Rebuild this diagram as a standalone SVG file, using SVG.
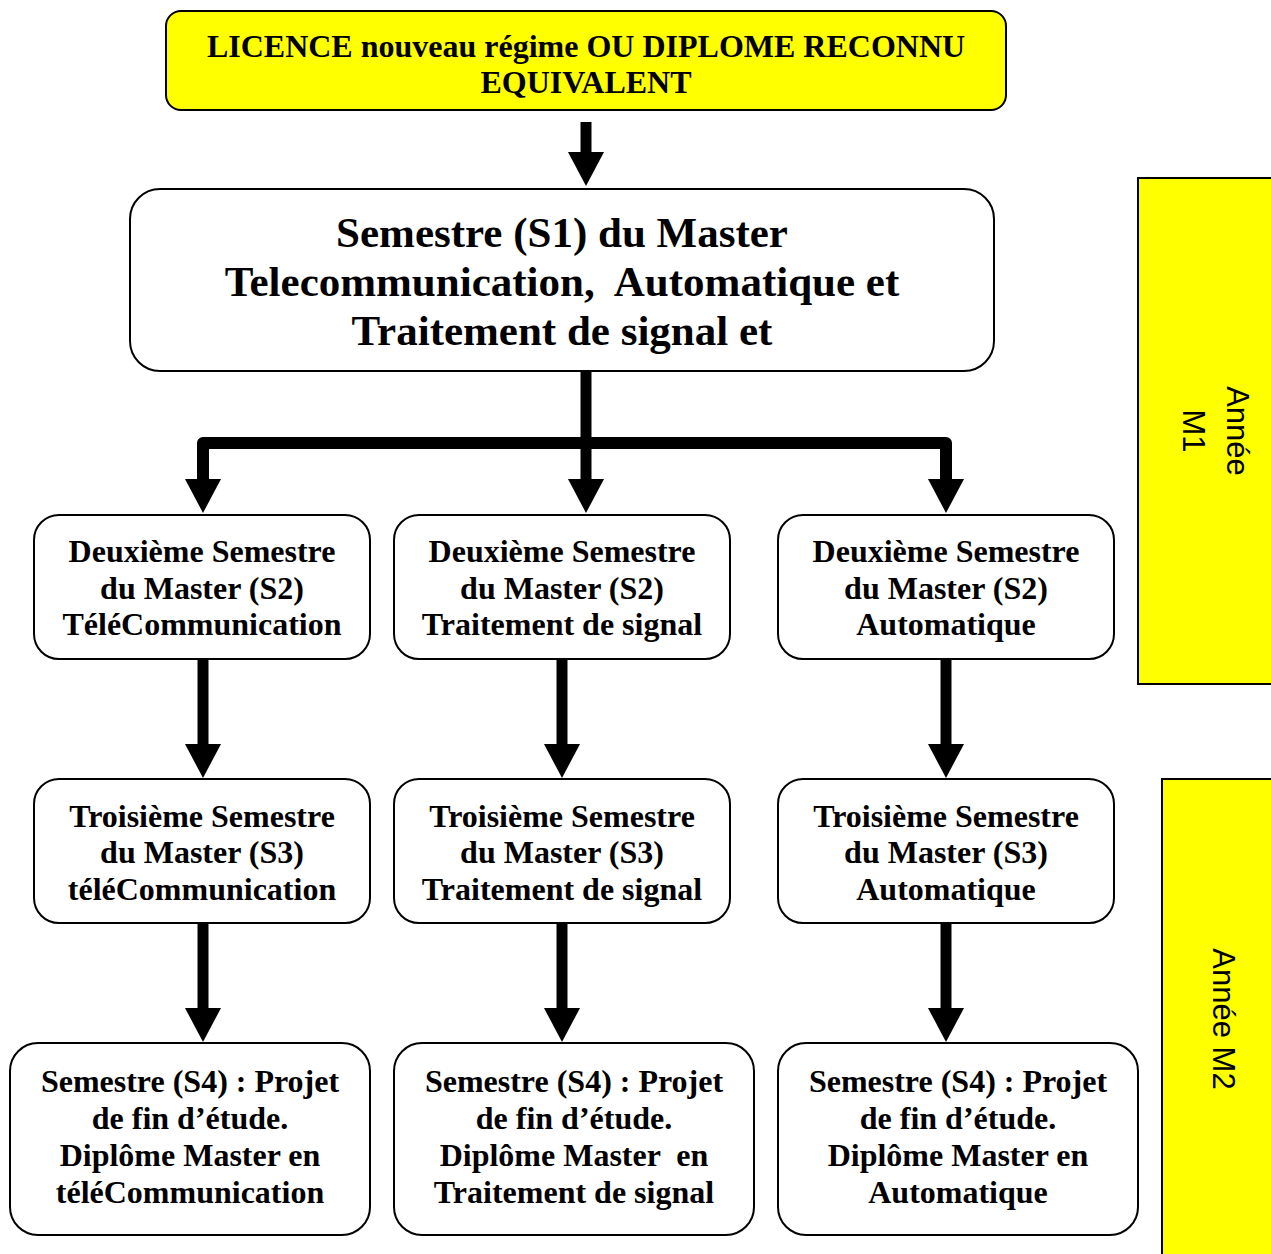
<svg xmlns="http://www.w3.org/2000/svg" width="1271" height="1254" viewBox="0 0 1271 1254">
<style>
.box{fill:#fff;stroke:#000;stroke-width:2}
.yel{fill:#ffff00;stroke:#000;stroke-width:2}
.t{font-family:"Liberation Serif","Times New Roman",serif;font-weight:bold;font-size:32px;text-anchor:middle;fill:#000;white-space:pre}
.big{font-size:43px}
.side{font-family:"Liberation Sans",Arial,sans-serif;font-size:31px;text-anchor:middle;fill:#000}
.c{fill:none;stroke:#000;stroke-width:11}
</style>
<defs>
<marker id="ah" markerUnits="userSpaceOnUse" markerWidth="34" markerHeight="36" viewBox="0 0 34 36" refX="0" refY="18" orient="auto">
<path d="M0,0 L34,18 L0,36 Z" fill="#000"/>
</marker>
</defs>

<g id="bar-m1">
<rect class="yel" x="1138" y="178" width="140" height="506"/>
<g transform="translate(1227,431) rotate(90)"><text class="side" x="0" y="0">Année</text></g>
<g transform="translate(1183,431) rotate(90)"><text class="side" x="0" y="0">M1</text></g>
</g>
<g id="bar-m2">
<rect class="yel" x="1162" y="779" width="120" height="480"/>
<g transform="translate(1213,1019) rotate(90)"><text class="side" x="0" y="0">Année M2</text></g>
</g>

<g id="connectors">
<line class="c" x1="586" y1="122" x2="586" y2="152" marker-end="url(#ah)"/>
<line class="c" x1="586" y1="371" x2="586" y2="479" marker-end="url(#ah)"/>
<path d="M203,479 L203,443 L946,443 L946,479" fill="none" stroke="#000" stroke-width="12" stroke-linejoin="round"/>
<line class="c" x1="203" y1="470" x2="203" y2="479" marker-end="url(#ah)"/>
<line class="c" x1="946" y1="470" x2="946" y2="479" marker-end="url(#ah)"/>
<line class="c" x1="203" y1="659" x2="203" y2="744" marker-end="url(#ah)"/>
<line class="c" x1="562" y1="659" x2="562" y2="744" marker-end="url(#ah)"/>
<line class="c" x1="946" y1="659" x2="946" y2="744" marker-end="url(#ah)"/>
<line class="c" x1="203" y1="923" x2="203" y2="1008" marker-end="url(#ah)"/>
<line class="c" x1="562" y1="923" x2="562" y2="1008" marker-end="url(#ah)"/>
<line class="c" x1="946" y1="923" x2="946" y2="1008" marker-end="url(#ah)"/>
</g>

<g id="licence">
<rect class="yel" x="166" y="11" width="840" height="99" rx="15"/>
<text class="t" x="586" y="57">LICENCE nouveau régime OU DIPLOME RECONNU</text>
<text class="t" x="586" y="93">EQUIVALENT</text>
</g>

<g id="s1">
<rect class="box" x="130" y="189" width="864" height="182" rx="30"/>
<text class="t big" x="562" y="247">Semestre (S1) du Master</text>
<text class="t big" x="562" y="296">Telecommunication,  Automatique et</text>
<text class="t big" x="562" y="345">Traitement de signal et</text>
</g>

<g id="s2-tele">
<rect class="box" x="34" y="515" width="336" height="144" rx="25"/>
<text class="t" x="202" y="562">Deuxième Semestre</text>
<text class="t" x="202" y="599">du Master (S2)</text>
<text class="t" x="202" y="635">TéléCommunication</text>
</g>
<g id="s2-signal">
<rect class="box" x="394" y="515" width="336" height="144" rx="25"/>
<text class="t" x="562" y="562">Deuxième Semestre</text>
<text class="t" x="562" y="599">du Master (S2)</text>
<text class="t" x="562" y="635">Traitement de signal</text>
</g>
<g id="s2-auto">
<rect class="box" x="778" y="515" width="336" height="144" rx="25"/>
<text class="t" x="946" y="562">Deuxième Semestre</text>
<text class="t" x="946" y="599">du Master (S2)</text>
<text class="t" x="946" y="635">Automatique</text>
</g>

<g id="s3-tele">
<rect class="box" x="34" y="779" width="336" height="144" rx="25"/>
<text class="t" x="202" y="827">Troisième Semestre</text>
<text class="t" x="202" y="863">du Master (S3)</text>
<text class="t" x="202" y="900">téléCommunication</text>
</g>
<g id="s3-signal">
<rect class="box" x="394" y="779" width="336" height="144" rx="25"/>
<text class="t" x="562" y="827">Troisième Semestre</text>
<text class="t" x="562" y="863">du Master (S3)</text>
<text class="t" x="562" y="900">Traitement de signal</text>
</g>
<g id="s3-auto">
<rect class="box" x="778" y="779" width="336" height="144" rx="25"/>
<text class="t" x="946" y="827">Troisième Semestre</text>
<text class="t" x="946" y="863">du Master (S3)</text>
<text class="t" x="946" y="900">Automatique</text>
</g>

<g id="s4-tele">
<rect class="box" x="10" y="1043" width="360" height="192" rx="28"/>
<text class="t" x="190" y="1092">Semestre (S4) : Projet</text>
<text class="t" x="190" y="1129">de fin d’étude.</text>
<text class="t" x="190" y="1166">Diplôme Master en</text>
<text class="t" x="190" y="1203">téléCommunication</text>
</g>
<g id="s4-signal">
<rect class="box" x="394" y="1043" width="360" height="192" rx="28"/>
<text class="t" x="574" y="1092">Semestre (S4) : Projet</text>
<text class="t" x="574" y="1129">de fin d’étude.</text>
<text class="t" x="574" y="1166">Diplôme Master  en</text>
<text class="t" x="574" y="1203">Traitement de signal</text>
</g>
<g id="s4-auto">
<rect class="box" x="778" y="1043" width="360" height="192" rx="28"/>
<text class="t" x="958" y="1092">Semestre (S4) : Projet</text>
<text class="t" x="958" y="1129">de fin d’étude.</text>
<text class="t" x="958" y="1166">Diplôme Master en</text>
<text class="t" x="958" y="1203">Automatique</text>
</g>
</svg>
